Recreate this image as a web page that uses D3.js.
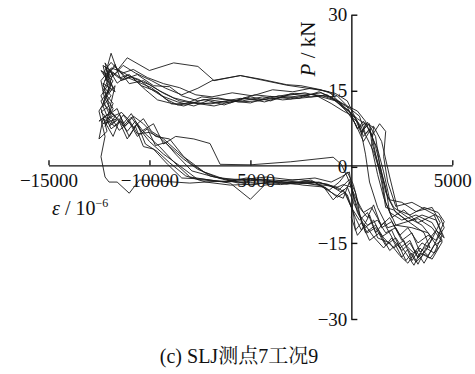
<!DOCTYPE html>
<html>
<head>
<meta charset="utf-8">
<script src="https://cdn.jsdelivr.net/npm/d3@7"></script>
<style>
  html, body { margin: 0; padding: 0; background: #fff; }
  svg { display: block; }
  .axis text { font-family: "Times New Roman", "Liberation Serif", Tinos, "DejaVu Serif", serif; font-size: 19px; fill: #111; }
  .axis path, .axis line { stroke: #111; stroke-width: 1.4; }
</style>
</head>
<body>
<svg id="chart" width="475" height="374"></svg>
<script>
// ── Data: strain (10^-6) vs load P (kN), one array per loading cycle ──
const xTicks = [-15000, -10000, -5000, 5000];
const yTicks = [-30, -15, 0, 15, 30];

const loop1 = [[-300, 11.5], [-800, 13.2], [-1500, 14.6], [-2500, 14.0], [-3500, 13.6], [-4500, 13.2], [-5500, 13.5], [-6500, 12.8], [-7500, 12.4], [-8500, 13.0], [-9300, 14.5], [-10000, 16.2], [-10800, 17.5], [-11400, 18.8], [-11900, 19.5], [-12200, 17.0], [-11800, 18.6], [-12100, 14.5], [-11700, 16.0], [-12000, 11.0], [-11600, 9.5], [-12300, 8.5], [-11800, 10.5], [-11300, 8.0], [-10900, 9.8], [-10500, 7.5], [-10000, 5.0], [-9300, 2.5], [-8500, 0.2], [-7600, -2.5], [-6500, -2.9], [-5000, -2.7], [-3500, -3.0], [-2000, -3.3], [-1000, -3.8], [-500, -5.0], [-200, -4.0], [100, -7.0], [400, -9.5], [800, -11.5], [1300, -10.5], [1700, -13.0], [2200, -12.0], [2700, -15.5], [3100, -17.0], [3500, -15.0], [3900, -16.0], [3600, -13.0], [2900, -11.0], [2200, -9.0], [1800, -6.0], [1500, -1.0], [1200, 4.0], [900, 7.5], [600, 6.0], [300, 9.0], [0, 10.5], [-300, 11.5]];

const loop2 = [[-200, 12.0], [-700, 14.0], [-1500, 15.2], [-2500, 16.0], [-3200, 16.2], [-4500, 17.3], [-5500, 18.0], [-6800, 17.0], [-7600, 19.8], [-8800, 20.5], [-10000, 19.0], [-11100, 21.5], [-11600, 19.0], [-11900, 22.4], [-12200, 18.0], [-11900, 16.0], [-12300, 12.5], [-11700, 10.0], [-12000, 8.0], [-11500, 9.5], [-11100, 7.0], [-10700, 9.0], [-10200, 6.5], [-9500, 4.0], [-8800, 1.0], [-8000, -2.0], [-7000, -2.6], [-6000, -3.2], [-5000, -6.4], [-4300, -3.6], [-3000, -3.0], [-1800, -3.1], [-800, -5.5], [-400, -6.2], [-100, -3.0], [300, -8.0], [700, -13.0], [1200, -11.5], [1600, -14.0], [2100, -16.0], [2600, -14.5], [3000, -18.5], [3400, -16.0], [3800, -17.5], [4300, -14.0], [4600, -12.0], [4400, -10.0], [3700, -8.5], [3000, -7.0], [2200, -7.8], [1800, -3.0], [1600, 2.0], [1700, 7.0], [1400, 8.5], [1000, 6.0], [700, 9.0], [300, 11.0], [-200, 12.0]];

const loop3 = [[-400, 11.0], [-1000, 12.5], [-1800, 14.2], [-2800, 14.5], [-3800, 13.8], [-4800, 14.2], [-5800, 13.0], [-6800, 12.0], [-7800, 12.6], [-8600, 12.2], [-9200, 13.4], [-9900, 15.6], [-10600, 16.8], [-11200, 17.8], [-11700, 19.8], [-12100, 18.2], [-12400, 19.0], [-12000, 16.5], [-12400, 14.0], [-12000, 10.5], [-12500, 9.0], [-12200, 10.0], [-11900, 7.5], [-11400, 9.0], [-11000, 6.0], [-10600, 8.5], [-10200, 4.5], [-9600, 3.0], [-9000, 0.8], [-8200, -1.8], [-7200, -3.0], [-6000, -3.6], [-4800, -3.4], [-3600, -2.8], [-2400, -3.6], [-1300, -4.0], [-700, -6.0], [-300, -5.0], [200, -10.0], [500, -12.5], [900, -9.5], [1300, -14.0], [1900, -15.0], [2400, -17.5], [2800, -19.0], [3200, -16.5], [3600, -19.0], [4100, -15.5], [4500, -14.5], [4000, -11.0], [3200, -9.5], [2500, -10.5], [1900, -9.0], [1700, -4.0], [1300, 1.0], [1000, 5.0], [900, 8.5], [500, 7.0], [200, 9.8], [-400, 11.0]];

const loop4 = [[-300, 12.2], [-900, 13.6], [-1600, 14.8], [-2600, 13.5], [-3600, 14.0], [-4600, 13.0], [-5600, 12.8], [-6600, 13.6], [-7600, 13.0], [-8400, 14.0], [-9000, 15.8], [-9800, 16.0], [-10600, 18.2], [-11300, 17.2], [-11800, 18.6], [-12300, 20.0], [-12000, 15.0], [-12400, 13.0], [-12100, 10.0], [-11600, 11.5], [-11300, 8.5], [-10900, 10.5], [-10400, 7.0], [-9800, 8.5], [-9300, 4.5], [-8700, 6.0], [-7800, 5.5], [-7000, 4.6], [-6500, 0.5], [-5000, 0.4], [-3000, 1.0], [-900, 1.9], [-500, 0.5], [-200, -2.0], [200, -6.0], [600, -9.0], [1000, -8.0], [1500, -11.5], [1900, -10.0], [2400, -13.5], [2800, -12.0], [3300, -15.0], [3800, -13.5], [4200, -14.5], [4600, -10.8], [4300, -9.0], [3600, -8.0], [2900, -9.5], [2300, -8.5], [1900, -2.0], [1500, 5.0], [1100, 8.0], [700, 6.5], [400, 10.0], [-300, 12.2]];

const loop5 = [[-200, 11.8], [-700, 13.0], [-1400, 14.0], [-2400, 13.6], [-3400, 13.2], [-4400, 13.8], [-5400, 13.0], [-6400, 13.3], [-7400, 13.8], [-8200, 12.5], [-8900, 12.4], [-9600, 14.8], [-10400, 16.0], [-11000, 18.2], [-11500, 17.5], [-12000, 19.0], [-12400, 17.0], [-12200, 13.0], [-12500, 11.0], [-12200, 6.0], [-12400, 2.0], [-12200, -2.0], [-12000, -3.0], [-11600, -3.0], [-11000, -5.2], [-10500, -2.6], [-9500, -2.8], [-8000, -3.2], [-6500, -2.8], [-5000, -3.1], [-3500, -3.5], [-2200, -2.9], [-1200, -3.4], [-600, -4.5], [-100, -2.5], [200, -5.0], [500, -11.0], [800, -13.0], [1200, -12.0], [1700, -15.5], [2200, -14.0], [2700, -17.0], [3100, -19.4], [3400, -17.0], [3900, -18.0], [4300, -16.0], [3800, -13.0], [3000, -12.0], [2200, -11.5], [1700, -7.0], [1500, -2.0], [1100, 3.0], [800, 5.5], [400, 8.5], [100, 9.5], [-200, 11.8]];

const loop6 = [[-200, 13.0], [-800, 14.5], [-1500, 15.1], [-3200, 16.1], [-5500, 18.0], [-6900, 17.0], [-7600, 15.5], [-8400, 14.2], [-9200, 15.5], [-9900, 17.0], [-10700, 18.5], [-11300, 20.0], [-11800, 18.0], [-12200, 20.5], [-12000, 17.5], [-12300, 15.0], [-11800, 12.5], [-12100, 9.5], [-11500, 10.5], [-11200, 8.0], [-10800, 10.0], [-10300, 8.5], [-9700, 6.0], [-9000, 5.5], [-8300, 2.0], [-7300, -1.0], [-6300, -2.4], [-5000, -2.5], [-3800, -2.6], [-2600, -3.0], [-1400, -3.8], [-900, -6.5], [-400, -4.5], [0, -8.0], [400, -10.5], [800, -9.0], [1200, -13.0], [1600, -11.0], [2100, -14.5], [2500, -16.5], [2900, -15.0], [3300, -17.8], [3700, -16.5], [4000, -14.0], [3500, -11.5], [2800, -10.0], [2100, -8.0], [1700, -5.0], [1400, 0.5], [1200, 6.0], [800, 8.8], [500, 6.5], [100, 10.5], [-200, 13.0]];

const loop7 = [[-300, 11.2], [-1000, 13.8], [-2000, 14.3], [-3000, 13.4], [-4000, 13.9], [-5000, 12.6], [-6000, 13.0], [-7000, 12.4], [-8000, 12.8], [-8800, 13.6], [-9500, 15.0], [-10300, 17.0], [-11000, 16.4], [-11500, 19.0], [-11900, 17.6], [-12200, 19.8], [-11800, 15.5], [-12200, 13.5], [-11900, 11.0], [-12300, 9.5], [-11700, 8.0], [-11300, 10.2], [-10800, 7.8], [-10300, 9.5], [-9900, 7.0], [-9300, 5.5], [-8600, 3.0], [-7900, 0.5], [-7000, -1.8], [-6000, -2.6], [-5000, -3.6], [-4000, -3.0], [-2800, -3.4], [-1600, -3.0], [-800, -4.2], [-400, -3.5], [0, -4.0], [300, -9.0], [700, -12.0], [1100, -10.5], [1500, -13.8], [2000, -12.5], [2400, -16.0], [2900, -14.5], [3300, -18.0], [3700, -15.0], [4200, -12.5], [4600, -14.0], [4100, -9.5], [3300, -11.0], [2600, -8.5], [2000, -10.0], [1600, -6.0], [1300, -1.5], [1000, 4.0], [1100, 7.8], [700, 8.6], [300, 7.5], [0, 10.0], [-300, 11.2]];

const loop8 = [[-200, 10.8], [-600, 12.8], [-1300, 13.6], [-2300, 14.6], [-3300, 14.0], [-4300, 12.8], [-5300, 13.6], [-6300, 12.2], [-7300, 13.3], [-8300, 12.0], [-9000, 12.6], [-9600, 13.2], [-10200, 15.2], [-10900, 17.8], [-11400, 17.0], [-11700, 20.2], [-12100, 17.8], [-11700, 14.8], [-12300, 16.5], [-12000, 12.0], [-12400, 10.8], [-11800, 8.6], [-11400, 10.8], [-11000, 9.2], [-10600, 6.5], [-10000, 6.8], [-9500, 5.8], [-9000, 4.0], [-8300, 1.5], [-7600, -0.5], [-6600, -2.2], [-5600, -3.2], [-4400, -2.4], [-3200, -3.4], [-2000, -2.6], [-1100, -4.6], [-600, -3.0], [-200, -1.0], [100, -3.5], [400, -8.0], [800, -10.0], [1100, -7.5], [1500, -12.0], [2000, -10.8], [2500, -14.5], [3000, -13.0], [3400, -16.8], [3900, -15.0], [4400, -11.0], [4000, -8.0], [3200, -8.8], [2500, -7.0], [1900, -6.5], [1600, -1.0], [1300, 3.5], [900, 7.0], [600, 5.0], [200, 8.5], [-200, 10.8]];

const loop9 = [[-100, 11.0], [-600, 12.4], [-1200, 14.2], [-2000, 13.8], [-3000, 14.4], [-4000, 13.0], [-5000, 13.8], [-6000, 12.6], [-7000, 13.2], [-7800, 12.0], [-8600, 12.8], [-9400, 14.0], [-10000, 15.5], [-10500, 17.2], [-11100, 18.0], [-11600, 16.5], [-12000, 19.2], [-12300, 16.0], [-11900, 14.0], [-12400, 11.5], [-12100, 7.0], [-12500, 5.5], [-12300, 9.5], [-11800, 6.0], [-11500, 9.0], [-11100, 5.5], [-10700, 8.0], [-10300, 4.0], [-9800, 3.5], [-9100, 0.5], [-8400, -2.2], [-7400, -2.4], [-6200, -3.0], [-5200, -2.2], [-4000, -2.9], [-2600, -2.5], [-1500, -3.2], [-700, -4.0], [-200, -5.5], [100, -9.0], [200, -12.5], [500, -11.0], [900, -14.5], [1400, -13.0], [1900, -16.5], [2300, -15.0], [2700, -18.5], [3000, -17.0], [3300, -19.2], [3700, -16.0], [4100, -17.0], [4500, -13.5], [4200, -10.5], [3500, -9.5], [2800, -10.8], [2100, -8.5], [1700, -8.0], [1500, -3.0], [1200, 2.5], [1000, 6.5], [600, 9.0], [300, 7.5], [-100, 11.0]];

const loop10 = [[-400, 12.0], [-1100, 14.8], [-2000, 15.5], [-2900, 14.8], [-3900, 15.2], [-4900, 14.0], [-5900, 14.6], [-6900, 13.8], [-7700, 14.2], [-8500, 15.6], [-9300, 16.4], [-10100, 17.6], [-10800, 19.2], [-11400, 18.4], [-11900, 20.6], [-12300, 18.5], [-11800, 17.0], [-12200, 14.0], [-11800, 11.5], [-12200, 8.0], [-11900, 9.8], [-11500, 7.2], [-11000, 8.8], [-10600, 6.0], [-10100, 7.5], [-9700, 4.2], [-9200, 4.8], [-8700, 2.5], [-7900, -0.8], [-6800, -2.0], [-5600, -2.6], [-4200, -2.0], [-2900, -2.6], [-1800, -2.2], [-1000, -3.0], [-500, -2.0], [-100, -1.0], [100, -6.0], [0, -10.0], [300, -13.5], [700, -11.5], [1100, -13.8], [1600, -16.0], [2000, -14.0], [2500, -17.8], [2800, -16.2], [3200, -18.8], [3600, -17.2], [4000, -18.2], [4500, -14.8], [4000, -12.0], [3300, -10.2], [2600, -11.0], [1800, -12.0], [1300, -8.0], [900, -3.0], [700, 2.5], [500, 6.5], [700, 8.4], [300, 9.5], [-400, 12.0]];

const loops = [loop1, loop2, loop3, loop4, loop5, loop6, loop7, loop8, loop9, loop10];

// ── Scales ──
const svg = d3.select('#chart');
const x = d3.scaleLinear().domain([-15000, 5000]).range([48.5, 452.3]);
const y = d3.scaleLinear().domain([-30, 30]).range([319, 14.7]);

// ── Axes (crossing at origin) ──
svg.append('g')
  .attr('class', 'axis')
  .attr('transform', 'translate(0,' + (y(0) - 1.5) + ')')
  .call(d3.axisBottom(x).tickValues(xTicks).tickFormat(d3.format('d'))
    .tickSizeInner(-5).tickSizeOuter(0).tickPadding(8));

svg.append('g')
  .attr('class', 'axis')
  .attr('transform', 'translate(' + x(0) + ',0)')
  .call(d3.axisLeft(y).tickValues(yTicks).tickFormat(d3.format('d'))
    .tickSizeInner(-6).tickSizeOuter(0).tickPadding(4));

svg.selectAll('.axis .domain').attr('stroke-width', 1.6);

// ── Loops ──
const line = d3.line().x(d => x(d[0])).y(d => y(d[1]));

svg.append('g')
  .selectAll('path').data(loops).join('path')
  .attr('d', line)
  .attr('fill', 'none')
  .attr('stroke', '#1a1a1a')
  .attr('stroke-width', 0.9)
  .attr('stroke-linejoin', 'miter');

// ── Axis titles ──
const serif = '"Times New Roman", "Liberation Serif", Tinos, "DejaVu Serif", serif';

const yTitle = svg.append('text')
  .attr('transform', 'translate(315,49) rotate(-90)')
  .attr('text-anchor', 'middle')
  .attr('font-family', serif).attr('font-size', '21px').attr('fill', '#111');
yTitle.append('tspan').attr('font-style', 'italic').text('P');
yTitle.append('tspan').text(' / kN');

const xTitle = svg.append('text')
  .attr('x', 52).attr('y', 215)
  .attr('font-family', serif).attr('font-size', '20px').attr('fill', '#111');
xTitle.append('tspan').attr('font-style', 'italic').text('ε');
xTitle.append('tspan').text(' / 10');
xTitle.append('tspan').attr('font-size', '12px').attr('dy', '-8').text('−6');

// ── Caption ──
svg.append('text')
  .attr('x', 239).attr('y', 363)
  .attr('text-anchor', 'middle')
  .attr('font-family', '"Times New Roman", "Liberation Serif", "Noto Serif CJK SC", "Noto Sans CJK SC", serif')
  .attr('font-size', '20px').attr('fill', '#111')
  .text('(c) SLJ测点7工况9');
</script>
</body>
</html>
